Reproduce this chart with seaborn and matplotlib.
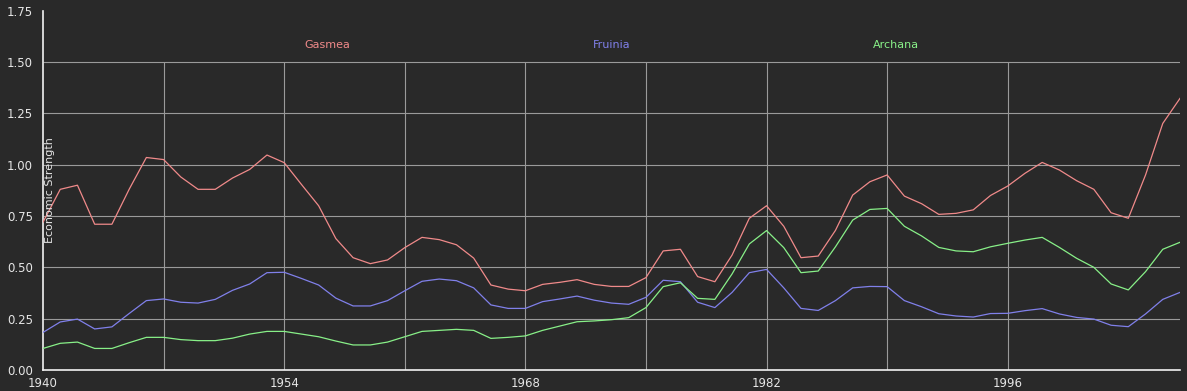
import numpy as np
import pandas as pd
import matplotlib
matplotlib.use("Agg")
import matplotlib.pyplot as plt
import seaborn as sns

# values, one per year
years = list(range(1940, 2007))

gasmea = [0.72, 0.88, 0.90, 0.71, 0.71, 0.88, 1.035, 1.025, 0.94, 0.88,
          0.88, 0.935, 0.977, 1.047, 1.01, 0.904, 0.80, 0.64, 0.547, 0.518,
          0.536, 0.596, 0.646, 0.635, 0.61, 0.545, 0.414, 0.394, 0.386, 0.417,
          0.427, 0.44, 0.417, 0.407, 0.407, 0.45, 0.58, 0.588, 0.455, 0.43,
          0.56, 0.739, 0.80, 0.70, 0.547, 0.555, 0.68, 0.852, 0.917, 0.95,
          0.847, 0.81, 0.758, 0.763, 0.78, 0.85, 0.896, 0.958, 1.011, 0.974,
          0.922, 0.88, 0.766, 0.739, 0.95, 1.201, 1.323]

fruinia = [0.183, 0.234, 0.248, 0.20, 0.21, 0.275, 0.338, 0.346, 0.33, 0.326,
           0.344, 0.388, 0.419, 0.474, 0.476, 0.446, 0.414, 0.35, 0.312, 0.312,
           0.338, 0.386, 0.432, 0.443, 0.435, 0.40, 0.317, 0.30, 0.30, 0.333,
           0.346, 0.36, 0.34, 0.326, 0.32, 0.354, 0.437, 0.43, 0.33, 0.304,
           0.378, 0.474, 0.49, 0.40, 0.30, 0.29, 0.338, 0.40, 0.407, 0.406,
           0.338, 0.308, 0.274, 0.263, 0.258, 0.275, 0.276, 0.289, 0.299, 0.273,
           0.256, 0.248, 0.218, 0.211, 0.273, 0.344, 0.378]

archana = [0.105, 0.13, 0.136, 0.105, 0.105, 0.133, 0.159, 0.159, 0.148, 0.143,
           0.143, 0.155, 0.175, 0.188, 0.188, 0.175, 0.162, 0.141, 0.122, 0.122,
           0.136, 0.162, 0.188, 0.193, 0.198, 0.193, 0.154, 0.159, 0.166, 0.193,
           0.214, 0.235, 0.239, 0.245, 0.255, 0.304, 0.406, 0.425, 0.349, 0.344,
           0.468, 0.614, 0.679, 0.596, 0.474, 0.482, 0.60, 0.73, 0.782, 0.787,
           0.70, 0.653, 0.597, 0.58, 0.576, 0.60, 0.617, 0.633, 0.646, 0.597,
           0.544, 0.50, 0.419, 0.39, 0.479, 0.588, 0.622]

countries = ['Gasmea', 'Fruinia', 'Archana']
colors = {'Gasmea': '#f08a8a', 'Fruinia': '#8080ea', 'Archana': '#88f088'}

xticks = [1940, 1954, 1968, 1982, 1996]
yticks = [0.0, 0.25, 0.5, 0.75, 1.0, 1.25, 1.5, 1.75]

df = pd.DataFrame({'Year': years * 3,
                   'Strength': gasmea + fruinia + archana,
                   'Country': sum([[c] * len(years) for c in countries], [])})

bg = '#292929'
fig = plt.figure(figsize=(11.87, 3.91), dpi=100, facecolor=bg)
ax = fig.add_axes([43 / 1187, 1 - 370 / 391, 1137 / 1187, 359.3 / 391])
ax.set_facecolor(bg)

# grid (stops at 1.50, like the original)
ax.hlines(yticks[1:-1], 1940, 2006, color='#9a9a9a', lw=0.8, zorder=1)
ax.vlines(range(1947, 2000, 7), 0, 1.5, color='#9a9a9a', lw=0.8, zorder=1)

sns.lineplot(data=df, x='Year', y='Strength', hue='Country', palette=colors,
             linewidth=0.9, legend=False, ax=ax, zorder=3)

ax.set_xlim(1940, 2006)
ax.set_ylim(0, 1.75)
ax.set_xticks(xticks)
ax.set_yticks(yticks)
ax.set_yticklabels(['%.2f' % v for v in yticks], ha='left')
ax.tick_params(axis='y', length=0, pad=26, labelsize=8.5, labelcolor='#e6e6e6')
ax.tick_params(axis='x', length=0, pad=5, labelsize=8.5, labelcolor='#e6e6e6')
ax.set_xlabel('')
ax.set_ylabel('')
for s in ['top', 'right']:
    ax.spines[s].set_visible(False)
for s in ['left', 'bottom']:
    ax.spines[s].set_color('#f2f2f2')
    ax.spines[s].set_linewidth(1.2)

ax.text(0.0062, 0.5, 'Economic Strength', rotation=90, transform=ax.transAxes,
        ha='center', va='center', fontsize=8, color='#e6e6e6')
for i, c in enumerate(countries):
    ax.text(0.25 * (i + 1), (1.583) / 1.75, c, transform=ax.transAxes,
            ha='center', va='center', fontsize=8, color=colors[c])

fig.savefig('out.png', dpi=100, facecolor=bg)
